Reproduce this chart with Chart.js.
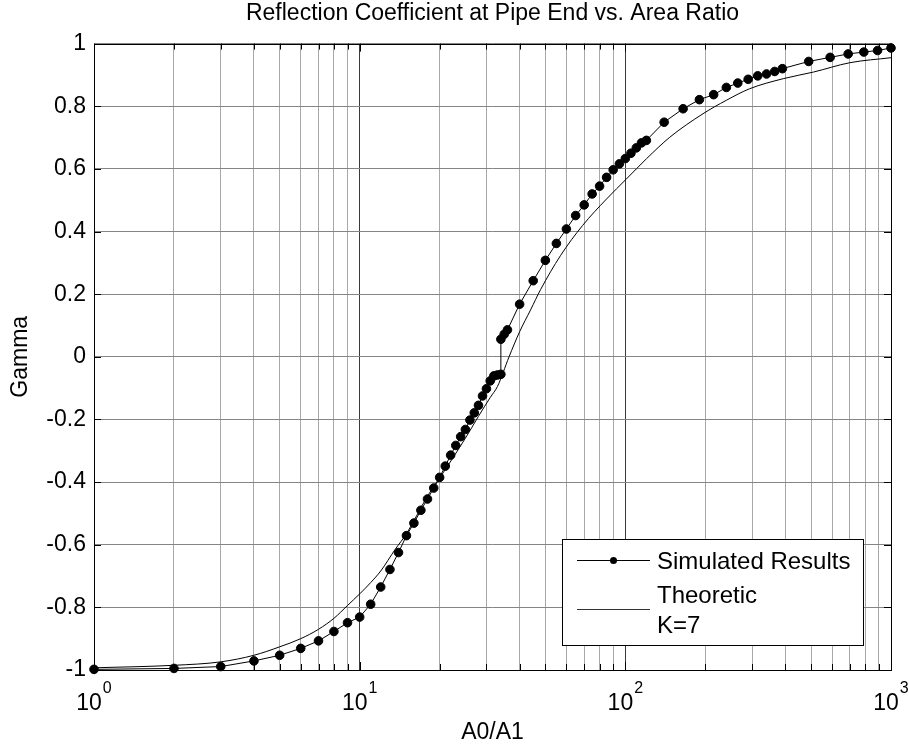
<!DOCTYPE html>
<html>
<head>
<meta charset="utf-8">
<script src="https://cdn.jsdelivr.net/npm/chart.js@4.4.0/dist/chart.umd.min.js"></script>
<style>
html, body { margin: 0; padding: 0; background: #fff; }
#wrap { width: 909px; height: 746px; }
</style>
</head>
<body>
<div id="wrap"><canvas id="chart"></canvas></div>
<script>
// simulated results (A0/A1 -> Gamma)
var simX = [1, 2, 3, 4, 5, 6, 7, 8, 9, 10, 11, 12, 13, 14, 15, 16, 17, 18, 19, 20,
    21, 22, 23, 24, 25, 26, 27, 28, 29, 30, 31, 32, 33, 34, 34, 35, 36,
    40, 45, 50, 55, 60, 65, 70, 75, 80, 85, 90, 95, 100, 105, 110, 115, 120,
    140, 165, 190, 215, 240, 265, 290, 315, 340, 365, 390,
    490, 590, 690, 790, 890, 1000];
var simY = [-0.998, -0.995, -0.989, -0.971, -0.953, -0.931, -0.907, -0.877, -0.849, -0.831,
    -0.790, -0.735, -0.679, -0.625, -0.571, -0.531, -0.490, -0.454, -0.419, -0.385,
    -0.349, -0.314, -0.283, -0.255, -0.232, -0.202, -0.179, -0.155, -0.125, -0.102,
    -0.077, -0.061, -0.058, -0.056, 0.056, 0.072, 0.086,
    0.168, 0.243, 0.308, 0.362, 0.408, 0.451, 0.485, 0.520, 0.545, 0.573, 0.597, 0.616,
    0.633, 0.650, 0.667, 0.683, 0.691,
    0.749, 0.792, 0.821, 0.837, 0.860, 0.874, 0.886, 0.897, 0.903, 0.911, 0.920,
    0.943, 0.956, 0.967, 0.973, 0.978, 0.986];

// theoretic curve
var theoX = [1, 2, 3, 4, 5, 6, 7, 8, 9, 10, 11, 12, 13.6, 15, 18, 21, 25, 28, 31, 33,
    36.5, 40, 44, 48, 57, 69, 85, 101, 120, 147, 196, 240, 294, 393, 510, 700, 1000];
var theoY = [-0.993, -0.985, -0.974, -0.953, -0.926, -0.900, -0.870, -0.835, -0.794, -0.757,
    -0.721, -0.684, -0.615, -0.565, -0.445, -0.360, -0.260, -0.190, -0.130, -0.095,
    0.000, 0.080, 0.150, 0.215, 0.323, 0.419, 0.504, 0.568, 0.632, 0.701, 0.776,
    0.819, 0.856, 0.888, 0.909, 0.939, 0.955];

var xMajor = [1, 10, 100, 1000];
var xMajorExp = ['0', '1', '2', '3'];

var FONT = '"Liberation Sans", Arial, Helvetica, sans-serif';
var FS = 23;

function toPoints(xs, ys) {
    return xs.map(function(x, i) { return { x: x, y: ys[i] }; });
}

// all grid positions of a log axis: 1..9 in each decade
function logGrid(min, max) {
    var out = [];
    for (var d = min; d < max; d *= 10) {
        for (var k = 1; k < 10; k++) out.push(k * d);
    }
    out.push(max);
    return out;
}

function isDecade(v) {
    var l = Math.log10(v);
    return Math.abs(l - Math.round(l)) < 1e-9;
}

var matlabAxes = {
    id: 'matlabAxes',
    afterDraw: function(chart) {
        var ctx = chart.ctx;
        var a = chart.chartArea;
        var xs = chart.scales.x;
        var ys = chart.scales.y;
        ctx.save();
        ctx.strokeStyle = '#000';
        ctx.lineWidth = 1;

        // inward tick marks
        ctx.beginPath();
        xs.ticks.forEach(function(t) {
            var px = Math.round(xs.getPixelForValue(t.value)) + 0.5;
            var len = isDecade(t.value) ? 8 : 6;
            ctx.moveTo(px, a.bottom);
            ctx.lineTo(px, a.bottom - len);
            ctx.moveTo(px, a.top);
            ctx.lineTo(px, a.top + len);
        });
        ys.ticks.forEach(function(t) {
            var py = Math.round(ys.getPixelForValue(t.value)) + 0.5;
            ctx.moveTo(a.left, py);
            ctx.lineTo(a.left + 7, py);
            ctx.moveTo(a.right, py);
            ctx.lineTo(a.right - 7, py);
        });
        ctx.stroke();

        // box
        ctx.strokeRect(Math.round(a.left) + 0.5, Math.round(a.top) + 0.5,
            Math.round(a.right - a.left), Math.round(a.bottom - a.top));

        // x tick labels 10^n
        ctx.fillStyle = '#000';
        ctx.textBaseline = 'alphabetic';
        ctx.textAlign = 'left';
        xMajor.forEach(function(v, i) {
            var px = xs.getPixelForValue(v);
            ctx.font = FS + 'px ' + FONT;
            var w1 = ctx.measureText('10').width;
            ctx.font = Math.round(FS * 0.68) + 'px ' + FONT;
            var w2 = ctx.measureText(xMajorExp[i]).width;
            var x0 = px - (w1 + w2 + 1) / 2;
            ctx.font = FS + 'px ' + FONT;
            ctx.fillText('10', x0, a.bottom + 40);
            ctx.font = Math.round(FS * 0.68) + 'px ' + FONT;
            ctx.fillText(xMajorExp[i], x0 + w1 + 1, a.bottom + 23);
        });

        // legend box
        var lg = { left: a.right - 329, top: a.bottom - 131, right: a.right - 28, bottom: a.bottom - 25 };
        ctx.fillStyle = '#fff';
        ctx.fillRect(lg.left, lg.top, lg.right - lg.left, lg.bottom - lg.top);
        ctx.strokeStyle = '#000';
        ctx.strokeRect(Math.round(lg.left) + 0.5, Math.round(lg.top) + 0.5,
            Math.round(lg.right - lg.left), Math.round(lg.bottom - lg.top));

        var ds = chart.data.datasets;
        var lx0 = lg.left + 15, lx1 = lg.left + 88, tx = lg.left + 95;
        var r1 = lg.top + 21;
        ctx.beginPath();
        ctx.moveTo(lx0, r1 + 0.5);
        ctx.lineTo(lx1, r1 + 0.5);
        ctx.stroke();
        ctx.fillStyle = '#000';
        ctx.beginPath();
        ctx.arc((lx0 + lx1) / 2, r1 + 0.5, 3.5, 0, Math.PI * 2);
        ctx.fill();

        var lines = ds[1].label.split('\n');
        var r2 = lg.top + 70;
        ctx.strokeStyle = '#333';
        ctx.beginPath();
        ctx.moveTo(lx0, r2 + 0.5);
        ctx.lineTo(lx1, r2 + 0.5);
        ctx.stroke();

        ctx.font = (FS + 1) + 'px ' + FONT;
        ctx.textBaseline = 'middle';
        ctx.fillText(ds[0].label, tx, lg.top + 23);
        ctx.fillText(lines[0], tx, lg.top + 57);
        ctx.fillText(lines[1], tx, lg.top + 87);
        ctx.restore();
    }
};

var ctx = document.getElementById('chart');
var chart = new Chart(ctx, {
    type: 'scatter',
    data: {
        datasets: [{
            label: 'Simulated Results',
            data: toPoints(simX, simY),
            showLine: true,
            borderColor: '#000',
            borderWidth: 1,
            backgroundColor: '#000',
            pointRadius: 4.3,
            pointBorderWidth: 1,
            pointBackgroundColor: '#000',
            pointBorderColor: '#000',
            tension: 0,
            clip: false
        }, {
            label: 'Theoretic\nK=7',
            data: toPoints(theoX, theoY),
            showLine: true,
            borderColor: '#000',
            borderWidth: 1,
            pointRadius: 0,
            cubicInterpolationMode: 'monotone',
            clip: false
        }]
    },
    options: {
        responsive: true,
        maintainAspectRatio: false,
        animation: false,
        devicePixelRatio: 1,
        layout: { padding: { top: 0, right: 18, bottom: 0, left: 0 } },
        plugins: {
            legend: { display: false },
            tooltip: { enabled: false },
            title: {
                display: true,
                fullSize: false,
                text: 'Reflection Coefficient at Pipe End vs. Area Ratio',
                color: '#000',
                font: { family: FONT, size: FS, weight: 'normal' },
                padding: { top: 0, bottom: 16 }
            }
        },
        scales: {
            x: {
                type: 'logarithmic',
                min: 1,
                max: 1000,
                afterBuildTicks: function(scale) {
                    scale.ticks = logGrid(1, 1000).map(function(v) {
                        return { value: v, major: isDecade(v) };
                    });
                },
                afterFit: function(scale) { scale.height = 76; },
                ticks: { display: false },
                grid: {
                    drawTicks: false,
                    color: function(c) {
                        return c.tick && isDecade(c.tick.value) ? '#3a3a3a' : '#a8a8a8';
                    }
                },
                border: { display: false },
                title: {
                    display: true,
                    text: 'A0/A1',
                    color: '#000',
                    font: { family: FONT, size: FS },
                    padding: { top: 0, bottom: 0 }
                }
            },
            y: {
                min: -1,
                max: 1,
                afterFit: function(scale) { scale.width = 94; },
                ticks: {
                    stepSize: 0.2,
                    color: '#000',
                    padding: 8,
                    font: { family: FONT, size: FS },
                    callback: function(v) { return String(Number(v.toFixed(1))); }
                },
                grid: { drawTicks: false, color: '#858585' },
                border: { display: false },
                title: {
                    display: true,
                    text: 'Gamma',
                    color: '#000',
                    font: { family: FONT, size: FS },
                    padding: { top: 7, bottom: 0 }
                }
            }
        }
    },
    plugins: [matlabAxes]
});
</script>
</body>
</html>
